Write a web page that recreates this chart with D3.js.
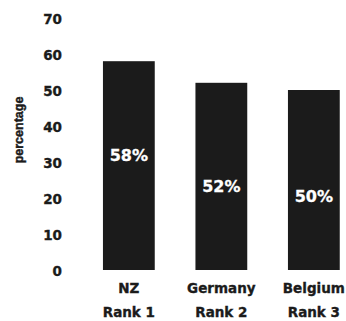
<!DOCTYPE html>
<html>
<head>
<meta charset="utf-8">
<script src="https://cdn.jsdelivr.net/npm/d3@7"></script>
<style>
  html, body { margin: 0; padding: 0; background: #fff; }
  svg { display: block; }
  text { font-family: "DejaVu Sans", sans-serif; font-weight: bold; fill: #1b1b1b; }
  .heavy { stroke: #1b1b1b; stroke-width: 0.35px; }
</style>
</head>
<body>
<svg id="chart" width="346" height="321"></svg>
<script>
// Share of respondents by country
const countries = ["NZ", "Germany", "Belgium"];
const ranks = ["Rank 1", "Rank 2", "Rank 3"];
const values = [58, 52, 50];
const yTicks = [0, 10, 20, 30, 40, 50, 60, 70];

const svg = d3.select("#chart");
const barColor = "#1b1b1b";

const y = d3.scaleLinear().domain([0, 70]).range([270, 18]);
const x = d3.scaleBand()
  .domain(countries)
  .range([82.6, 360.1])
  .paddingInner(0.44)
  .paddingOuter(0.22);

// y axis: labels only, no line or ticks
const yAxis = d3.axisLeft(y).tickValues(yTicks).tickSize(0).tickPadding(0);
const gy = svg.append("g").attr("transform", "translate(62,1.5)").call(yAxis);
gy.select(".domain").remove();
gy.selectAll("text")
  .attr("class", "heavy")
  .attr("font-size", 13.5)
  .attr("font-family", null)
  .style("fill", "#1b1b1b");

svg.append("text")
  .attr("class", "heavy")
  .attr("transform", "translate(22.5,130) rotate(-90)")
  .attr("text-anchor", "middle")
  .attr("font-size", 12.5)
  .style("font-family", "'Liberation Sans Narrow', 'Liberation Sans', Arial, sans-serif")
  .style("stroke-width", "0.45px")
  .text("percentage");

// bars
svg.selectAll("rect.bar")
  .data(values)
  .join("rect")
  .attr("class", "bar")
  .attr("x", (d, i) => x(countries[i]))
  .attr("width", x.bandwidth())
  .attr("y", d => y(d))
  .attr("height", d => y(0) - y(d))
  .attr("fill", barColor);

// value labels inside the bars
const labelPos = d => y(1.43 * d - 51.1);
svg.selectAll("text.val")
  .data(values)
  .join("text")
  .attr("class", "val")
  .attr("x", (d, i) => x(countries[i]) + x.bandwidth() / 2)
  .attr("y", labelPos)
  .attr("dy", "0.36em")
  .attr("text-anchor", "middle")
  .attr("font-size", 16)
  .style("fill", "#ffffff")
  .style("stroke", "#ffffff")
  .style("stroke-width", "0.3px")
  .text(d => d + "%");

// category labels
const xl = svg.append("g");
countries.forEach((c, i) => {
  const cx = x(c) + x.bandwidth() / 2;
  xl.append("text").attr("class", "heavy").attr("x", cx).attr("y", 293)
    .attr("text-anchor", "middle").attr("font-size", 13.5).text(c);
  xl.append("text").attr("class", "heavy").attr("x", cx).attr("y", 317)
    .attr("text-anchor", "middle").attr("font-size", 13.5).text(ranks[i]);
});
</script>
</body>
</html>
